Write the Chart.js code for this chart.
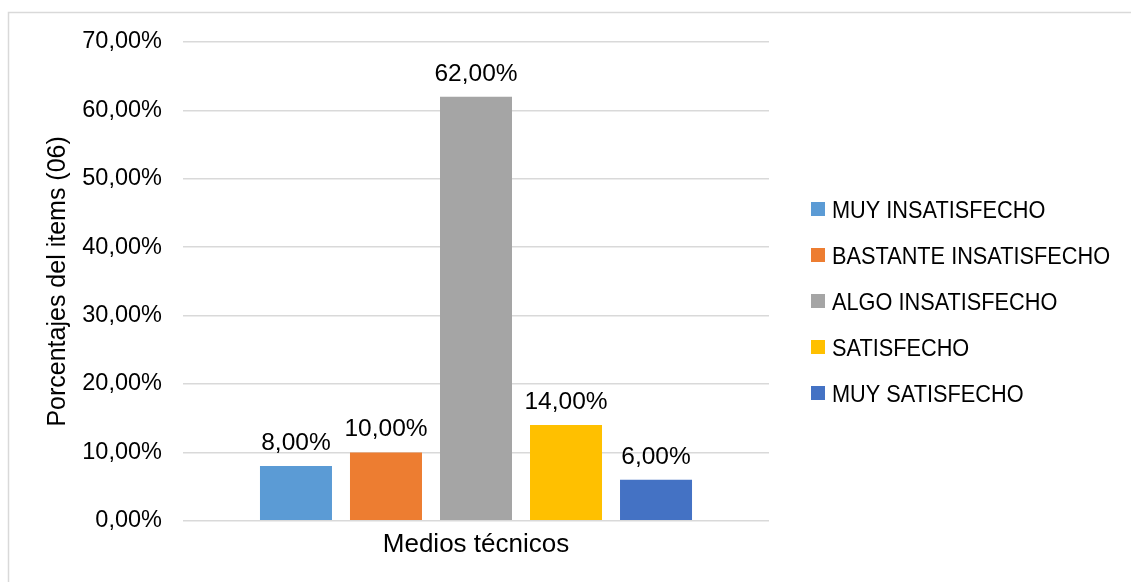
<!DOCTYPE html>
<html>
<head>
<meta charset="utf-8">
<script src="https://cdn.jsdelivr.net/npm/chart.js@4/dist/chart.umd.min.js"></script>
<style>
  html, body { margin: 0; padding: 0; background: #fff; }
  #wrap { width: 1131px; height: 582px; position: relative; }
</style>
</head>
<body>
<div id="wrap"><canvas id="grafico"></canvas></div>
<script>
// datos del grafico
const categorias = ["Medios técnicos"];
const nombresSeries = ["MUY INSATISFECHO", "BASTANTE INSATISFECHO", "ALGO INSATISFECHO", "SATISFECHO", "MUY SATISFECHO"];
const valoresSeries = [8, 10, 62, 14, 6];
const coloresSeries = ["#5B9BD5", "#ED7D31", "#A5A5A5", "#FFC000", "#4472C4"];
const ticksY = [0, 10, 20, 30, 40, 50, 60, 70];

const formato = v => v.toFixed(2).replace('.', ',') + '%';
const fuente = '"Liberation Sans", Arial, sans-serif';

// etiquetas encima de las barras
const etiquetasBarras = {
  id: 'etiquetasBarras',
  afterDatasetsDraw(chart) {
    const ctx = chart.ctx;
    ctx.save();
    ctx.font = '24.5px ' + fuente;
    ctx.fillStyle = '#000';
    ctx.textAlign = 'center';
    ctx.textBaseline = 'alphabetic';
    chart.data.datasets.forEach((ds, i) => {
      chart.getDatasetMeta(i).data.forEach((barra, j) => {
        ctx.fillText(formato(ds.data[j]), barra.x, barra.y - 16);
      });
    });
    ctx.restore();
  }
};

// leyenda a la derecha (letra estrecha, como en el original)
const leyenda = {
  id: 'leyenda',
  afterDraw(chart) {
    const ctx = chart.ctx;
    const ds = chart.data.datasets;
    const x0 = chart.chartArea.right + 42;
    const paso = 46;
    const y0 = chart.height / 2 + 10 - paso * (ds.length - 1) / 2;
    ctx.save();
    ctx.font = '24.5px ' + fuente;
    ctx.textAlign = 'left';
    ctx.textBaseline = 'alphabetic';
    ds.forEach((d, i) => {
      const y = y0 + i * paso;
      ctx.fillStyle = d.backgroundColor;
      ctx.fillRect(x0, y - 7, 14, 14);
      ctx.fillStyle = '#000';
      ctx.save();
      ctx.translate(x0 + 21, y + 8.8);
      ctx.scale(0.887, 1);
      ctx.fillText(d.label, 0, 0);
      ctx.restore();
    });
    ctx.restore();
  }
};

// borde exterior del area del grafico
const borde = {
  id: 'borde',
  beforeDraw(chart) {
    const ctx = chart.ctx;
    ctx.save();
    ctx.fillStyle = '#fff';
    ctx.fillRect(0, 0, chart.width, chart.height);
    ctx.strokeStyle = '#d9d9d9';
    ctx.lineWidth = 1.5;
    ctx.strokeRect(8.5, 12.5, 1140, 700);
    ctx.restore();
  }
};

new Chart(document.getElementById('grafico'), {
  type: 'bar',
  data: {
    labels: categorias,
    datasets: nombresSeries.map((nombre, i) => ({
      label: nombre,
      data: [valoresSeries[i]],
      backgroundColor: coloresSeries[i],
      borderWidth: 0,
      categoryPercentage: 0.768,
      barPercentage: 0.8
    }))
  },
  options: {
    responsive: true,
    maintainAspectRatio: false,
    animation: false,
    layout: { padding: { left: 39, top: 42, right: 362, bottom: 22 } },
    plugins: {
      tooltip: { enabled: false },
      legend: { display: false }
    },
    scales: {
      x: {
        grid: { display: false },
        border: { display: false },
        ticks: { color: '#000', font: { family: fuente, size: 26 }, padding: 0 }
      },
      y: {
        min: ticksY[0],
        max: ticksY[ticksY.length - 1],
        afterBuildTicks: scale => { scale.ticks = ticksY.map(v => ({ value: v })); },
        afterFit: scale => { scale.width = 144; },
        border: { display: false },
        grid: { color: '#d9d9d9', lineWidth: 1.5, drawTicks: false },
        ticks: { color: '#000', font: { family: fuente, size: 23.5 }, padding: 21, callback: v => formato(v) },
        title: {
          display: true,
          text: 'Porcentajes del items (06)',
          color: '#000',
          font: { family: fuente, size: 25 },
          padding: { top: 4, bottom: 4 }
        }
      }
    }
  },
  plugins: [borde, etiquetasBarras, leyenda]
});
</script>
</body>
</html>
